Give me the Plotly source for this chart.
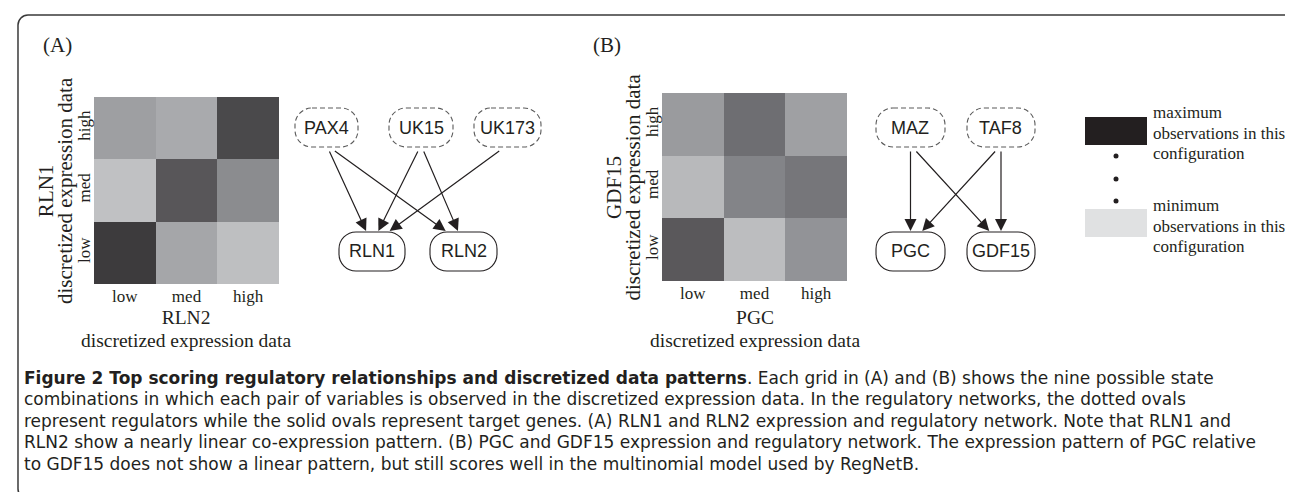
import plotly.graph_objects as go

W, H = 1293, 492

# ---------------- data ----------------
states = ["low", "med", "high"]
# relative number of observations per state combination (rows: y state low->high, cols: x state low->high)
rln_counts = [[0.86, 0.31, 0.18],
              [0.17, 0.72, 0.45],
              [0.35, 0.29, 0.79]]
pgc_counts = [[0.71, 0.19, 0.41],
              [0.21, 0.49, 0.56],
              [0.37, 0.60, 0.34]]

regulators_a = ["PAX4", "UK15", "UK173"]
targets_a = ["RLN1", "RLN2"]
edges_a = [("PAX4", "RLN1"), ("PAX4", "RLN2"), ("UK15", "RLN1"), ("UK15", "RLN2"), ("UK173", "RLN1")]

regulators_b = ["MAZ", "TAF8"]
targets_b = ["PGC", "GDF15"]
edges_b = [("MAZ", "PGC"), ("MAZ", "GDF15"), ("TAF8", "PGC"), ("TAF8", "GDF15")]

legend_labels = [["maximum", "observations in this", "configuration"],
                 ["minimum", "observations in this", "configuration"]]

caption_lines = [
    "<b>Figure 2 Top scoring regulatory relationships and discretized data patterns</b>. Each grid in (A) and (B) shows the nine possible state",
    "combinations in which each pair of variables is observed in the discretized expression data. In the regulatory networks, the dotted ovals",
    "represent regulators while the solid ovals represent target genes. (A) RLN1 and RLN2 expression and regulatory network. Note that RLN1 and",
    "RLN2 show a nearly linear co-expression pattern. (B) PGC and GDF15 expression and regulatory network. The expression pattern of PGC relative",
    "to GDF15 does not show a linear pattern, but still scores well in the multinomial model used by RegNetB.",
]

# ---------------- style / layout ----------------
LIGHT, DARK = "#e0e1e2", "#231f20"
colorscale = [[0, LIGHT], [0.5, "#818286"], [1, DARK]]
SERIF = "Liberation Serif, Times New Roman, serif"
SANS = "Liberation Sans, Arial, sans-serif"
CAP = "DejaVu Sans, Open Sans, sans-serif"
INK = "#231f20"


def X(p):
    return p / W


def Y(p):
    return 1 - p / H


def rounded(x0, y0, x1, y1, r):
    k = 0.5523 * r
    pts = [("M", [(x0 + r, y0)]), ("L", [(x1 - r, y0)]),
           ("C", [(x1 - r + k, y0), (x1, y0 + r - k), (x1, y0 + r)]),
           ("L", [(x1, y1 - r)]),
           ("C", [(x1, y1 - r + k), (x1 - r + k, y1), (x1 - r, y1)]),
           ("L", [(x0 + r, y1)]),
           ("C", [(x0 + r - k, y1), (x0, y1 - r + k), (x0, y1 - r)]),
           ("L", [(x0, y0 + r)]),
           ("C", [(x0, y0 + r - k), (x0 + r - k, y0), (x0 + r, y0)])]
    s = ""
    for cmd, ps in pts:
        s += cmd + " ".join(f"{X(a):.5f},{Y(b):.5f}" for a, b in ps) + " "
    return s + "Z"


fig = go.Figure()

fig.add_trace(go.Heatmap(z=rln_counts, x=states, y=states, colorscale=colorscale, zmin=0, zmax=1,
                         showscale=False, xaxis="x", yaxis="y"))
fig.add_trace(go.Heatmap(z=pgc_counts, x=states, y=states, colorscale=colorscale, zmin=0, zmax=1,
                         showscale=False, xaxis="x2", yaxis="y2"))

ax_common = dict(showgrid=False, zeroline=False, showline=False, ticks="", fixedrange=True,
                 tickfont=dict(family=SERIF, size=17, color=INK))
heat_a = (86, 271, 89, 276)
heat_b = (654, 839, 85, 273)
fig.update_layout(
    xaxis=dict(domain=[X(heat_a[0]), X(heat_a[1])], anchor="y", **ax_common),
    yaxis=dict(domain=[Y(heat_a[3]), Y(heat_a[2])], anchor="x", tickangle=-90, **ax_common),
    xaxis2=dict(domain=[X(heat_b[0]), X(heat_b[1])], anchor="y2", **ax_common),
    yaxis2=dict(domain=[Y(heat_b[3]), Y(heat_b[2])], anchor="x2", tickangle=-90, **ax_common),
)

shapes = []
ann = []


def text(x, y, s, size, family=SERIF, angle=0, xanchor="center", color=INK):
    ann.append(dict(x=X(x), y=Y(y), xref="paper", yref="paper", text=s, showarrow=False,
                    xanchor=xanchor, yanchor="middle", textangle=angle,
                    font=dict(family=family, size=size, color=color)))


def multiline(x, y, lines, size, spacing, family=SERIF, angle=0, xanchor="center", align="center"):
    # one text block; line pitch set by the base font size, glyph size by the spans
    body = "<br>".join(f'<span style="font-size:{size}px">{s}</span>' for s in lines)
    ann.append(dict(x=X(x), y=Y(y), xref="paper", yref="paper", text=body, showarrow=False,
                    xanchor=xanchor, yanchor="middle", textangle=angle, align=align,
                    font=dict(family=family, size=spacing / 1.3, color=INK)))


# frame
shapes.append(dict(type="path", path=rounded(10, 7, 1291, 491, 10), xref="paper", yref="paper",
                   line=dict(color="#3a3a3a", width=1.5)))

# panel labels
text(49, 37, "(A)", 21)
text(599, 37, "(B)", 21)

# axis titles
for (x0, x1, y0, y1), xg, yg in [(heat_a, "RLN2", "RLN1"), (heat_b, "PGC", "GDF15")]:
    cx = (x0 + x1) / 2
    cy = (y0 + y1) / 2
    multiline(cx, 321, [xg, "discretized expression data"], 19.5, 22.5)
    multiline(x0 - 38.5, cy, [yg, "discretized expression data"], 21, 19, angle=-90)

# networks
REG_Y = (100, 139)
TGT_Y = (224, 263)
node_x = {"PAX4": (287, 350), "UK15": (381, 445), "UK173": (466, 533),
          "RLN1": (331, 397), "RLN2": (422, 489),
          "MAZ": (868, 937), "TAF8": (959, 1027), "PGC": (868, 937), "GDF15": (959, 1027)}

for regs, tgts, edges in [(regulators_a, targets_a, edges_a), (regulators_b, targets_b, edges_b)]:
    for n in regs:
        x0, x1 = node_x[n]
        shapes.append(dict(type="path", path=rounded(x0, REG_Y[0], x1, REG_Y[1], 17),
                           xref="paper", yref="paper", line=dict(color="#5a5a5a", width=1.1, dash="5px,3px")))
        text((x0 + x1) / 2, (REG_Y[0] + REG_Y[1]) / 2, n, 18, family=SANS)
    for n in tgts:
        x0, x1 = node_x[n]
        shapes.append(dict(type="path", path=rounded(x0, TGT_Y[0], x1, TGT_Y[1], 17),
                           xref="paper", yref="paper", line=dict(color=INK, width=1.1)))
        text((x0 + x1) / 2, (TGT_Y[0] + TGT_Y[1]) / 2, n, 18, family=SANS)
    for s, t in edges:
        scx = sum(node_x[s]) / 2
        tcx = sum(node_x[t]) / 2
        dx = tcx - scx
        sx = scx + 0.05 * dx
        ex = tcx - 0.13 * dx
        sy = REG_Y[1] + 3
        ey = TGT_Y[0] - 1
        ann.append(dict(x=X(ex), y=Y(ey), xref="paper", yref="paper", ax=sx - ex, ay=sy - ey,
                        axref="pixel", ayref="pixel", text="", showarrow=True, arrowhead=2,
                        arrowsize=2.0, arrowwidth=1.2, arrowcolor=INK, standoff=0, startstandoff=0))

# legend (colour key)
key_x = (1077, 1139)
shapes.append(dict(type="rect", xref="paper", yref="paper", x0=X(key_x[0]), x1=X(key_x[1]),
                   y0=Y(137), y1=Y(109), fillcolor=colorscale[-1][1], line=dict(width=0)))
shapes.append(dict(type="rect", xref="paper", yref="paper", x0=X(key_x[0]), x1=X(key_x[1]),
                   y0=Y(229), y1=Y(201), fillcolor=colorscale[0][1], line=dict(width=0)))
for dy in (148, 171, 193):
    shapes.append(dict(type="circle", xref="paper", yref="paper", x0=X(1105.5), x1=X(1110.5),
                       y0=Y(dy + 2.5), y1=Y(dy - 2.5), fillcolor=INK, line=dict(width=0)))
for lines, mid in zip(legend_labels, (124.5, 217.5)):
    multiline(1143, mid, lines, 17, 20.5, xanchor="left", align="left")

# caption
multiline(14, 370 + 2 * 21.4, caption_lines, 17, 21.4, family=CAP, xanchor="left", align="left")

fig.update_layout(width=W, height=H, margin=dict(l=0, r=0, t=0, b=0),
                  paper_bgcolor="white", plot_bgcolor="white", shapes=shapes, annotations=ann,
                  showlegend=False)
fig.write_html("out.html")
